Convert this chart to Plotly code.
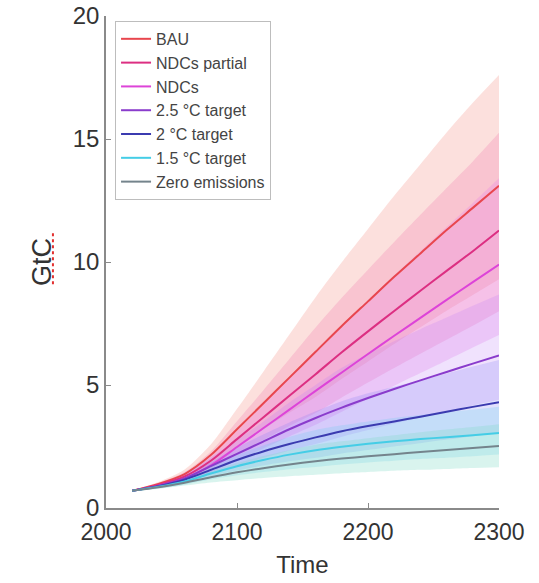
import plotly.graph_objects as go

years = [2020, 2040, 2060, 2080, 2100, 2120, 2140, 2160, 2180, 2200, 2220, 2240, 2260, 2280, 2300]

names = ["BAU", "NDCs partial", "NDCs", "2.5 °C target", "2 °C target", "1.5 °C target", "Zero emissions"]

bau_mid = [0.70, 0.98, 1.38, 2.15, 3.2, 4.25, 5.3, 6.35, 7.4, 8.4, 9.4, 10.35, 11.3, 12.2, 13.1]
bau_hi = [0.72, 1.06, 1.57, 2.58, 4.03, 5.53, 7.05, 8.57, 9.99, 11.34, 12.69, 13.97, 15.26, 16.47, 17.6]
bau_lo = [0.68, 0.91, 1.21, 1.78, 2.5, 3.19, 3.87, 4.51, 5.25, 5.96, 6.67, 7.35, 8.02, 8.66, 9.3]

ndcp_mid = [0.70, 0.94, 1.28, 1.92, 2.8, 3.68, 4.56, 5.44, 6.33, 7.18, 8.01, 8.83, 9.64, 10.44, 11.28]
ndcp_hi = [0.72, 1.02, 1.46, 2.3, 3.53, 4.78, 6.06, 7.34, 8.55, 9.69, 10.81, 11.92, 13.01, 14.09, 15.25]
ndcp_lo = [0.68, 0.87, 1.13, 1.59, 2.18, 2.76, 3.33, 3.86, 4.49, 5.1, 5.69, 6.27, 6.84, 7.41, 8.0]

ndc_mid = [0.70, 0.90, 1.19, 1.73, 2.48, 3.24, 4.0, 4.76, 5.51, 6.26, 7.0, 7.73, 8.46, 9.18, 9.9]
ndc_hi = [0.72, 0.97, 1.36, 2.08, 3.12, 4.2, 5.3, 6.4, 7.44, 8.45, 9.45, 10.44, 11.42, 12.4, 13.4]
ndc_lo = [0.68, 0.84, 1.05, 1.44, 1.93, 2.42, 2.91, 3.38, 3.91, 4.44, 4.97, 5.49, 6.0, 6.52, 7.03]

t25_mid = [0.70, 0.90, 1.2, 1.7, 2.2, 2.7, 3.2, 3.66, 4.08, 4.47, 4.84, 5.19, 5.53, 5.87, 6.2]
t25_hi = [0.72, 0.97, 1.37, 2.04, 2.77, 3.51, 4.29, 5.0, 5.7, 6.26, 6.78, 7.27, 7.74, 8.22, 8.68]
t25_lo = [0.68, 0.84, 1.06, 1.41, 1.72, 2.03, 2.34, 2.6, 2.9, 3.17, 3.44, 3.68, 3.93, 4.17, 4.4]

t20_mid = [0.70, 0.88, 1.15, 1.55, 1.95, 2.3, 2.6, 2.87, 3.12, 3.33, 3.52, 3.71, 3.91, 4.11, 4.3]
t20_hi = [0.72, 0.95, 1.31, 1.86, 2.46, 2.99, 3.48, 3.93, 4.34, 4.66, 4.93, 5.19, 5.47, 5.75, 6.02]
t20_lo = [0.68, 0.82, 1.01, 1.29, 1.52, 1.73, 1.9, 2.04, 2.22, 2.36, 2.5, 2.63, 2.78, 2.92, 3.05]

t15_mid = [0.70, 0.86, 1.08, 1.4, 1.7, 1.95, 2.17, 2.35, 2.49, 2.61, 2.71, 2.8, 2.88, 2.96, 3.05]
t15_hi = [0.72, 0.93, 1.23, 1.68, 2.14, 2.54, 2.89, 3.17, 3.36, 3.52, 3.66, 3.78, 3.89, 4.0, 4.12]
t15_lo = [0.68, 0.8, 0.95, 1.16, 1.33, 1.46, 1.58, 1.67, 1.77, 1.85, 1.92, 1.99, 2.04, 2.1, 2.17]

zero_mid = [0.70, 0.84, 1.03, 1.25, 1.45, 1.62, 1.77, 1.9, 2.01, 2.1, 2.19, 2.28, 2.36, 2.44, 2.52]
zero_hi = [0.72, 0.91, 1.17, 1.5, 1.83, 2.11, 2.35, 2.57, 2.71, 2.84, 2.96, 3.08, 3.19, 3.29, 3.4]
zero_lo = [0.68, 0.78, 0.91, 1.04, 1.13, 1.22, 1.29, 1.35, 1.41, 1.46, 1.51, 1.55, 1.59, 1.63, 1.66]

x_ticks = [2000, 2100, 2200, 2300]
y_ticks = [0, 5, 10, 15, 20]

mids = [bau_mid, ndcp_mid, ndc_mid, t25_mid, t20_mid, t15_mid, zero_mid]
his = [bau_hi, ndcp_hi, ndc_hi, t25_hi, t20_hi, t15_hi, zero_hi]
los = [bau_lo, ndcp_lo, ndc_lo, t25_lo, t20_lo, t15_lo, zero_lo]

line_colors = ["#e8464e", "#dc2f82", "#dd44d8", "#8a3ccc", "#3b3bb0", "#45cde6", "#74848c"]
band_colors = ["rgba(248,170,160,0.36)", "rgba(240,115,170,0.26)", "rgba(232,120,232,0.26)",
               "rgba(185,125,245,0.22)", "rgba(125,125,245,0.22)", "rgba(100,205,240,0.24)",
               "rgba(130,220,200,0.3)"]

fig = go.Figure()

for i in range(len(names)):
    fig.add_trace(go.Scatter(x=years, y=los[i], mode="lines",
                             line=dict(width=0, shape="spline", smoothing=0.8, color=band_colors[i]),
                             showlegend=False, hoverinfo="skip"))
    fig.add_trace(go.Scatter(x=years, y=his[i], mode="lines", fill="tonexty", fillcolor=band_colors[i],
                             line=dict(width=0, shape="spline", smoothing=0.8, color=band_colors[i]),
                             showlegend=False, hoverinfo="skip"))

for i in range(len(names)):
    fig.add_trace(go.Scatter(x=years, y=mids[i], mode="lines", name=names[i],
                             line=dict(width=2, shape="spline", smoothing=0.8, color=line_colors[i])))

font_family = "Liberation Sans, Arial, sans-serif"

fig.update_layout(
    width=539, height=583,
    margin=dict(l=106, r=40, t=16, b=75, autoexpand=False),
    plot_bgcolor="white", paper_bgcolor="white",
    font=dict(family=font_family, color="#333333"),
    showlegend=True,
    legend=dict(x=0.023, y=0.99, xanchor="left", yanchor="top", traceorder="normal",
                bgcolor="white", bordercolor="#bdbdbd", borderwidth=1,
                font=dict(size=16, color="#444444", family=font_family),
                tracegroupgap=0),
    xaxis=dict(range=[2000, 2300], tickvals=x_ticks, ticktext=[str(v) for v in x_ticks],
               showgrid=False, zeroline=False, showline=True, linecolor="#8a8a8a", linewidth=1.5,
               ticks="inside", ticklen=5, tickcolor="#8a8a8a", tickwidth=1.2,
               tickfont=dict(size=23, color="#333333"), ticklabelstandoff=3,
               title=dict(text="Time", font=dict(size=24, color="#333333"), standoff=12),
               automargin=False),
    yaxis=dict(range=[0, 20], tickvals=y_ticks, ticktext=[str(v) for v in y_ticks],
               showgrid=False, zeroline=False, showline=True, linecolor="#8a8a8a", linewidth=1.5,
               ticks="inside", ticklen=5, tickcolor="#8a8a8a", tickwidth=1.2,
               tickfont=dict(size=24, color="#333333"),
               title=dict(text="GtC", font=dict(size=27, color="#333333"), standoff=13),
               automargin=False),
)

fig.add_shape(type="line", xref="paper", yref="paper", x0=-0.135, x1=-0.135, y0=0.455, y1=0.56,
              line=dict(color="#e23030", width=2, dash="dot"))

fig.write_html("out.html")
